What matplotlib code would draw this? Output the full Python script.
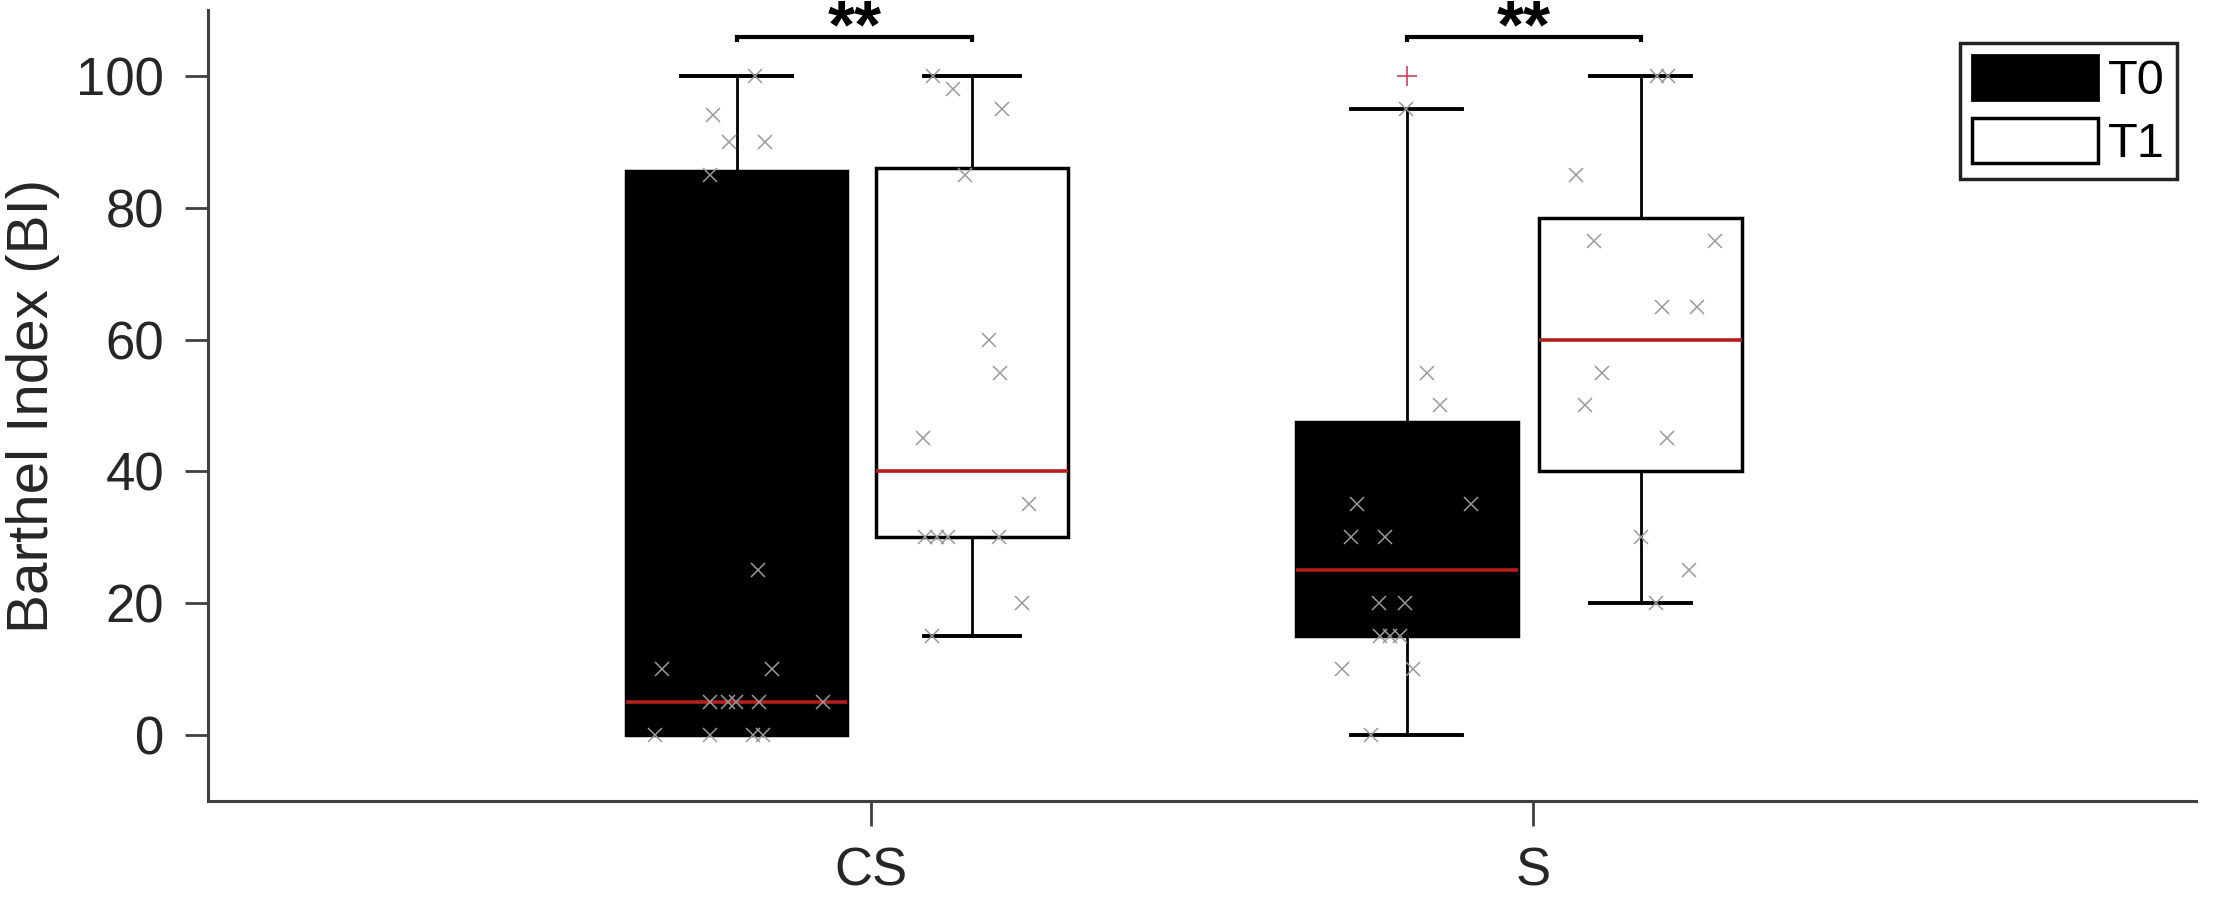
import matplotlib
matplotlib.use('Agg')
import matplotlib.pyplot as plt
from matplotlib.patches import Patch

plt.rcParams['font.family'] = ['Liberation Sans', 'DejaVu Sans']

# ---------------- data ----------------
groups = ['CS', 'S']
series = ['T0', 'T1']
sig_labels = ['**', '**']

# box statistics
t0_q1 = [0, 15]
t0_med = [5, 25]
t0_q3 = [85.5, 47.5]
t0_whislo = [0, 0]
t0_whishi = [100, 95]
t0_fliers = [[], [100]]

t1_q1 = [30, 40]
t1_med = [40, 60]
t1_q3 = [86, 78.5]
t1_whislo = [15, 20]
t1_whishi = [100, 100]
t1_fliers = [[], []]

# individual scores and their horizontal jitter (relative to box centre)
cs_t0_vals = [100, 94, 90, 90, 85, 25, 10, 10, 5, 5, 5, 5, 5, 0, 0, 0, 0]
cs_t0_jit = [0.027, -0.036, -0.012, 0.042, -0.041, 0.032, -0.113, 0.053,
             -0.041, -0.013, -0.001, 0.034, 0.130, -0.123, -0.041, 0.024, 0.040]

cs_t1_vals = [100, 98, 95, 85, 60, 55, 45, 35, 30, 30, 30, 30, 20, 15]
cs_t1_jit = [-0.059, -0.029, 0.045, -0.011, 0.025, 0.042, -0.074, 0.086,
             -0.071, -0.053, -0.036, 0.041, 0.075, -0.061]

s_t0_vals = [95, 55, 50, 35, 35, 30, 30, 20, 20, 15, 15, 15, 10, 10, 0]
s_t0_jit = [-0.001, 0.030, 0.050, -0.075, 0.097, -0.084, -0.033, -0.042,
            -0.003, -0.041, -0.026, -0.010, -0.098, 0.010, -0.054]

s_t1_vals = [100, 100, 85, 75, 75, 65, 65, 55, 50, 45, 30, 25, 20]
s_t1_jit = [0.024, 0.041, -0.098, -0.070, 0.112, 0.032, 0.085, -0.059,
            -0.084, 0.039, 0.000, 0.073, 0.023]

# ---------------- layout constants ----------------
t0_off = [-0.202, -0.191]
t1_off = [0.153, 0.162]
t0_w = [0.334, 0.335]
t1_w = [0.291, 0.306]

RED = '#b41e1e'
AX_COL = '#404040'
TXT_COL = '#262626'
PT_COL = '#9a9a9a'

fig = plt.figure(figsize=(22.17, 9.05), dpi=100)
ax = fig.add_axes([208 / 2217, 104 / 905, 1988 / 2217, 791 / 905])

stats, pos, widths, faces = [], [], [], []
for g in range(len(groups)):
    stats.append(dict(med=t0_med[g], q1=t0_q1[g], q3=t0_q3[g],
                      whislo=t0_whislo[g], whishi=t0_whishi[g], fliers=t0_fliers[g]))
    pos.append(g + 1 + t0_off[g]); widths.append(t0_w[g]); faces.append('black')
    stats.append(dict(med=t1_med[g], q1=t1_q1[g], q3=t1_q3[g],
                      whislo=t1_whislo[g], whishi=t1_whishi[g], fliers=t1_fliers[g]))
    pos.append(g + 1 + t1_off[g]); widths.append(t1_w[g]); faces.append('white')

bp = ax.bxp(stats, positions=pos, widths=widths, capwidths=[0.5 * w for w in widths],
            patch_artist=True, showfliers=True,
            boxprops=dict(edgecolor='black', linewidth=2.5),
            whiskerprops=dict(color='black', linewidth=2.0),
            capprops=dict(color='black', linewidth=2.8),
            medianprops=dict(color=RED, linewidth=2.6),
            flierprops=dict(marker='+', markeredgecolor='#c8465a', markersize=15,
                            markeredgewidth=1.2, linestyle='none'),
            manage_ticks=False)
for patch, fc in zip(bp['boxes'], faces):
    patch.set_facecolor(fc)

# scatter of individual scores
point_sets = [(cs_t0_vals, cs_t0_jit, 0, t0_off), (cs_t1_vals, cs_t1_jit, 0, t1_off),
              (s_t0_vals, s_t0_jit, 1, t0_off), (s_t1_vals, s_t1_jit, 1, t1_off)]
for vals, jit, g, off in point_sets:
    xs = [g + 1 + off[g] + j for j in jit]
    ax.plot(xs, vals, linestyle='none', marker='x', color=PT_COL,
            markersize=10.5, markeredgewidth=1.1, zorder=5)

# significance brackets
for g, lab in enumerate(sig_labels):
    x0 = g + 1 + t0_off[g]
    x1 = g + 1 + t1_off[g]
    ax.plot([x0, x0, x1, x1], [105.2, 105.9, 105.9, 105.2], color='black',
            lw=3, solid_capstyle='butt', solid_joinstyle='miter', clip_on=False)
    ax.text((x0 + x1) / 2, 104.3, lab, ha='center', va='baseline',
            fontsize=50, fontweight='bold', color='black')

ax.set_xlim(0, 3)
ax.set_ylim(-10, 110)
ax.set_xticks([1, 2])
ax.set_xticklabels(groups)
ax.set_yticks([0, 20, 40, 60, 80, 100])

for s in ['top', 'right']:
    ax.spines[s].set_visible(False)
for s in ['left', 'bottom']:
    ax.spines[s].set_linewidth(2.2)
    ax.spines[s].set_color(AX_COL)

ax.tick_params(direction='out', width=2, color=AX_COL,
               labelsize=38, pad=15, labelcolor=TXT_COL)
ax.tick_params(axis='y', length=16.5)
ax.tick_params(axis='x', length=18)
ax.set_ylabel('Barthel Index (BI)', fontsize=42, color=TXT_COL, labelpad=12)

handles = [Patch(facecolor='black', edgecolor='black', linewidth=2),
           Patch(facecolor='white', edgecolor='black', linewidth=2.5)]
leg = ax.legend(handles, series, loc='upper right',
                bbox_to_anchor=(2177 / 2217, 1 - 43 / 905), bbox_transform=fig.transFigure,
                fancybox=False, edgecolor='#222222', fontsize=35, handlelength=2.6,
                handleheight=1.04, borderpad=0.25, labelspacing=0.28,
                handletextpad=0.2, borderaxespad=0, framealpha=1)
leg.get_frame().set_linewidth(2.5)

fig.savefig('out.png', dpi=100)
